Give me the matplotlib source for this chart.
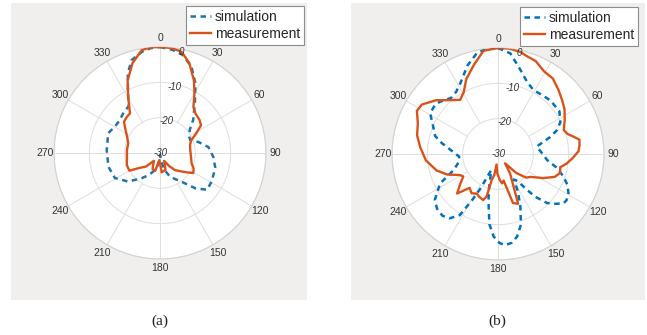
import numpy as np
import matplotlib.pyplot as plt
from matplotlib.patches import Rectangle

# radiation patterns: angle in degrees (clockwise from broadside), normalised gain in dB
sim_a_deg = [0, 7, 13, 20, 27, 35, 45, 52, 60, 67, 74, 83, 94, 105, 119, 128, 135, 143, 150,
             157, 165, 172, 178, 184, 192, 200, 208, 216, 228, 241, 255, 273, 291, 300, 309,
             318, 326, 333, 338, 343, 350, 355, 360]
sim_a_db = [0, -0.6, -1.5, -4, -7.9, -12.8, -16.7, -19.3, -20.5, -20.7, -18.7, -16.2, -14.9,
            -13.8, -13.3, -13.1, -15.9, -19.8, -21.5, -22.7, -25, -27.5, -29.5, -28, -26, -24.4,
            -22.8, -21.2, -17.9, -15.4, -14.9, -14.9, -14.3, -15.2, -15.3, -14.6, -14.1, -10,
            -5.7, -2.5, -0.9, -0.2, 0]

meas_a_deg = [0, 6, 12, 18, 25, 30, 36, 42, 50, 56, 62, 68, 75, 84, 96, 108, 115, 121, 125,
              132, 139, 145, 152, 162, 175, 185, 195, 205, 218, 226, 235, 240, 250, 260, 275,
              287, 297, 305, 311, 316, 323, 330, 336, 343, 350, 355, 360]
meas_a_db = [0, -0.1, -0.7, -3.2, -7.3, -10.5, -13.9, -15, -15.4, -16, -18.5, -20.5, -21.2,
             -21.4, -21.2, -20.6, -19.5, -19, -20.4, -22.3, -23.6, -25.5, -27.5, -25, -24.5,
             -28, -24.8, -25, -27.2, -24.5, -22.5, -20, -20, -20.5, -20.6, -20.6, -19.5, -18,
             -16.5, -16.2, -15.9, -12, -7.5, -3.4, -0.4, 0, 0]

sim_b_deg = [0, 7, 15, 22, 29, 36, 44, 55, 63, 68, 72, 79, 86, 92, 97, 103, 109, 114, 119,
             124, 127, 131, 135, 139, 141, 144, 148, 152, 157, 162, 167, 171, 175.6, 179, 183,
             187, 190, 194, 198, 203, 207, 209, 212, 217, 222, 228, 234, 243, 250, 258, 266,
             272, 281, 286, 292, 301, 308, 312, 320, 326, 332, 341, 348, 354, 360]
sim_b_db = [0, -1.3, -5.4, -8, -9.3, -9.2, -8.8, -8.8, -10.2, -12, -14.5, -18.8, -18, -17,
            -16, -13, -10.4, -8.5, -7.2, -6.6, -6.8, -8.5, -10.4, -14, -17, -20.5, -21.5, -18,
            -13.8, -9, -6, -4.6, -4.1, -4.8, -6.6, -10, -14.8, -19, -23, -25, -19, -15.5, -9.6,
            -7.2, -6.5, -6.8, -7.9, -11.6, -16.6, -18.6, -19, -17.5, -13.8, -11.5, -10.3, -7.6,
            -7.4, -7.9, -9.3, -8.8, -7.3, -3.5, -0.9, 0, 0]

meas_b_deg = [0, 6, 12, 17, 22, 29, 36, 43, 50, 56, 63, 70, 74, 77, 80, 84, 88, 93, 98, 102,
              107, 112, 118, 125, 130, 136, 143, 148, 153, 158, 163, 168, 172, 176, 182, 188,
              190, 193.6, 195, 198, 204, 208, 214, 220, 226, 232, 237, 241, 248, 255, 265, 275,
              283, 291, 298, 303, 311, 318, 325, 331, 337, 345, 352, 360]
meas_b_db = [0, 0, -0.4, -1.2, -1.6, -3.2, -3.6, -5, -6.3, -7.3, -8.8, -10.2, -9.5, -8.1, -6.6,
             -6.8, -7.2, -8.8, -10.4, -12, -11.6, -12.7, -15.5, -18.7, -19.6, -22.5, -26.7,
             -23.6, -21, -14.8, -15.5, -22.3, -21.6, -22.6, -24.5, -27, -24, -22.4, -17.5,
             -16.3, -16.8, -17.3, -16.6, -17.5, -13.9, -16.5, -18.3, -17.7, -14.5, -12, -9.5,
             -7.9, -6.5, -5.7, -4, -4.3, -6.8, -9.5, -11.3, -10, -7, -3.8, -0.5, 0]

theta_ticks = list(range(0, 360, 30))
r_ticks = [-30, -20, -10, 0]
series_labels = ['simulation', 'measurement']
captions = ['(a)', '(b)']

GRID = '#dedede'
TEXT = '#333333'
PANEL = '#f0efee'
SIM_COLORS = ['#1f74a8', '#0072BD']
MEAS_COLOR = '#D95319'

plt.rcParams['font.family'] = ['Liberation Sans', 'DejaVu Sans']

fig = plt.figure(figsize=(6.47, 3.35), dpi=100)
W, H = 647, 335


def px_box(x0, y0, x1, y1):
    # pixel rectangle (top-left origin) -> figure fraction [left, bottom, width, height]
    return [x0 / W, 1 - y1 / H, (x1 - x0) / W, (y1 - y0) / H]


def polar_panel(ax, sim_deg, sim_db, meas_deg, meas_db, sim_color):
    ax.set_theta_zero_location('N')
    ax.set_theta_direction(-1)
    ax.set_facecolor('white')
    # spokes: the cardinal ones run to the centre, the rest stop at the -20 ring
    for t in theta_ticks:
        r0 = -30 if t % 90 == 0 else -20
        ax.plot([np.deg2rad(t)] * 2, [r0, 0], color=GRID, lw=0.7, zorder=1)
    ax.plot(np.deg2rad(sim_deg), sim_db, color=sim_color, lw=1.8,
            linestyle=(0, (2.2, 1.8)), zorder=3, label=series_labels[0])
    ax.plot(np.deg2rad(meas_deg), meas_db, color=MEAS_COLOR, lw=1.7,
            zorder=4, label=series_labels[1])
    ax.set_ylim(-30, 0)
    ax.set_yticks(r_ticks)
    ax.set_yticklabels([])
    for r in r_ticks:
        pos = (0, -30) if r == -30 else (np.deg2rad(12), r - 0.8)
        ax.text(pos[0], pos[1], str(r), ha='center', va='center', fontsize=7,
                color=TEXT, style='italic', zorder=5)
    ax.set_xticks(np.deg2rad(theta_ticks))
    ax.set_xticklabels([str(t) for t in theta_ticks], fontsize=7.5, color=TEXT)
    ax.tick_params(axis='x', pad=-4)
    ax.xaxis.grid(False)
    ax.yaxis.grid(True, color=GRID, lw=0.7)
    ax.spines['polar'].set_color('#d2d2d2')
    ax.spines['polar'].set_linewidth(0.8)


panels = [
    (px_box(11, 3, 307, 300), px_box(54, 47, 266, 259), (304, 6), 160,
     sim_a_deg, sim_a_db, meas_a_deg, meas_a_db),
    (px_box(351, 3, 645, 300), px_box(392, 48, 604, 260), (638, 7), 497,
     sim_b_deg, sim_b_db, meas_b_deg, meas_b_db),
]

for i, (bg, box, leg_xy, cap_x, sd, sv, md, mv) in enumerate(panels):
    fig.add_artist(Rectangle((bg[0], bg[1]), bg[2], bg[3], transform=fig.transFigure,
                             facecolor=PANEL, edgecolor='none', zorder=0))
    ax = fig.add_axes(box, projection='polar')
    polar_panel(ax, sd, sv, md, mv, SIM_COLORS[i])
    handles, labels = ax.get_legend_handles_labels()
    leg = fig.legend(handles, labels, loc='upper right',
                     bbox_to_anchor=(leg_xy[0] / W, 1 - leg_xy[1] / H),
                     fontsize=10, frameon=True, fancybox=False, framealpha=1,
                     edgecolor='#8c8c8c', handlelength=1.5, handletextpad=0.25,
                     labelspacing=0.22, borderpad=0.3, borderaxespad=0)
    leg.get_frame().set_linewidth(0.8)
    for txt in leg.get_texts():
        txt.set_color('#262626')
    fig.text(cap_x / W, 1 - 321 / H, captions[i], ha='center', va='center',
             family='Liberation Serif', fontsize=11, color='#202020')

fig.savefig('out.png', dpi=100, facecolor='white')
